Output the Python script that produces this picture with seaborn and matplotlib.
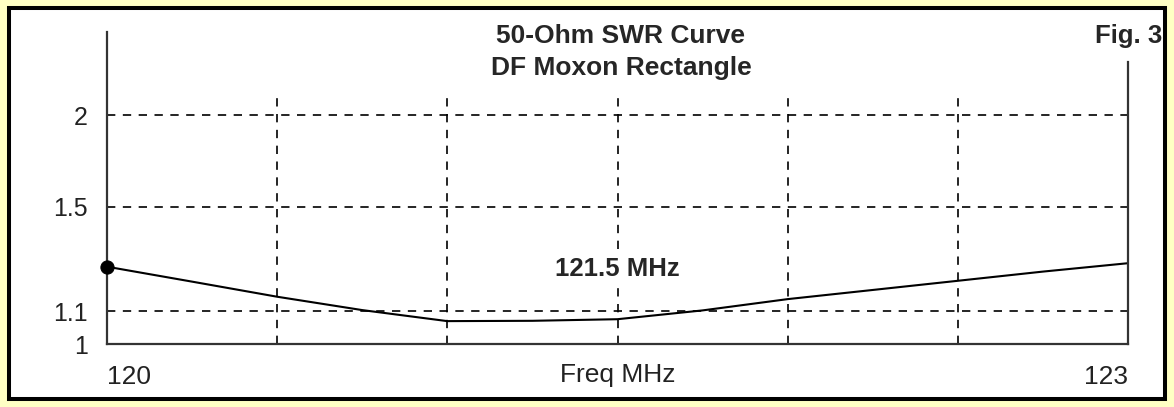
import matplotlib
matplotlib.use("Agg")
import matplotlib.pyplot as plt
import seaborn as sns
from matplotlib.patches import Rectangle

# SWR values
freq_mhz = [120.0, 120.25, 120.5, 120.75, 121.0, 121.25, 121.5,
            121.75, 122.0, 122.25, 122.5, 122.75, 123.0]
swr = [1.254, 1.200, 1.148, 1.104, 1.069, 1.070, 1.075,
       1.103, 1.140, 1.171, 1.203, 1.236, 1.267]

y_ticks = [1, 1.1, 1.5, 2]
y_tick_labels = ["1", "1.1", "1.5", "2"]
x_grid = [120.5, 121.0, 121.5, 122.0, 122.5]
x_ticks = [120, 123]
x_tick_labels = ["120", "123"]

W, H = 1174, 407


def to_rho(s):
    return (s - 1.0) / (s + 1.0)


def from_rho(r):
    return (1.0 + r) / (1.0 - r)


sns.set_style("white")
plt.rcParams['font.family'] = ['Liberation Sans', 'DejaVu Sans']

fig = plt.figure(figsize=(W / 100, H / 100), dpi=100, facecolor="#FFFFC4")

# white panel with black frame
frame = Rectangle((9 / W, (H - 399) / H), (1165 - 9) / W, (399 - 8) / H,
                  transform=fig.transFigure, facecolor="white",
                  edgecolor="black", linewidth=2.9, zorder=-10)
fig.patches.append(frame)

ax = fig.add_axes([107 / W, (H - 344) / H, (1128 - 107) / W, (344 - 32) / H])
ax.set_facecolor("none")

sns.lineplot(x=freq_mhz, y=swr, ax=ax, color="black", linewidth=1.5)
sns.scatterplot(x=freq_mhz[:1], y=swr[:1], ax=ax, color="black", s=90,
                edgecolor="black", zorder=5, clip_on=False)

ax.set_yscale("function", functions=(to_rho, from_rho))
ax.set_xlim(120, 123)
ax.set_ylim(1, from_rho(312 / 686))

dash = (0, (5, 4.5))
ax.hlines(y_ticks[1:], 120, 123, colors="black", linestyles=dash, linewidth=1.2)
ax.vlines(x_grid, 1, from_rho(247 / 686), colors="black", linestyles=dash,
          linewidth=1.2)

ax.set_yticks(y_ticks)
ax.set_yticklabels(y_tick_labels, fontsize=18, color="#222222")
ax.yaxis.set_minor_locator(plt.NullLocator())
ax.set_xticks(x_ticks)
ax.set_xticklabels(x_tick_labels, fontsize=19, color="#222222")
ax.get_xticklabels()[0].set_ha("left")
ax.get_xticklabels()[1].set_ha("right")
ax.tick_params(axis="y", length=0, pad=14)
ax.tick_params(axis="x", length=0, pad=15)

ax.set_xlabel("Freq MHz", fontsize=19, color="#222222")
ax.xaxis.set_label_coords(0.5, -0.0994)
ax.xaxis.label.set_va("center")
ax.set_ylabel("")

for side in ["left", "bottom", "right"]:
    ax.spines[side].set_color("#333333")
    ax.spines[side].set_linewidth(1.6)
ax.spines["top"].set_visible(False)
ax.spines["right"].set_bounds(1, from_rho(282 / 686))

ax.text(121.5, from_rho(75 / 686), "121.5 MHz", ha="center", va="center",
        fontsize=18.5, fontweight="bold", zorder=6,
        bbox=dict(facecolor="white", edgecolor="none", pad=4))

fig.text(621 / W, 1 - 52 / H, "50-Ohm SWR Curve\nDF Moxon Rectangle",
         ha="center", va="center", multialignment="center",
         fontsize=19, fontweight="bold", linespacing=1.45)
fig.text(1162 / W, 1 - 36 / H, "Fig. 3", ha="right", va="center",
         fontsize=18.5, fontweight="bold")

fig.savefig("out.png", dpi=100, facecolor=fig.get_facecolor())
